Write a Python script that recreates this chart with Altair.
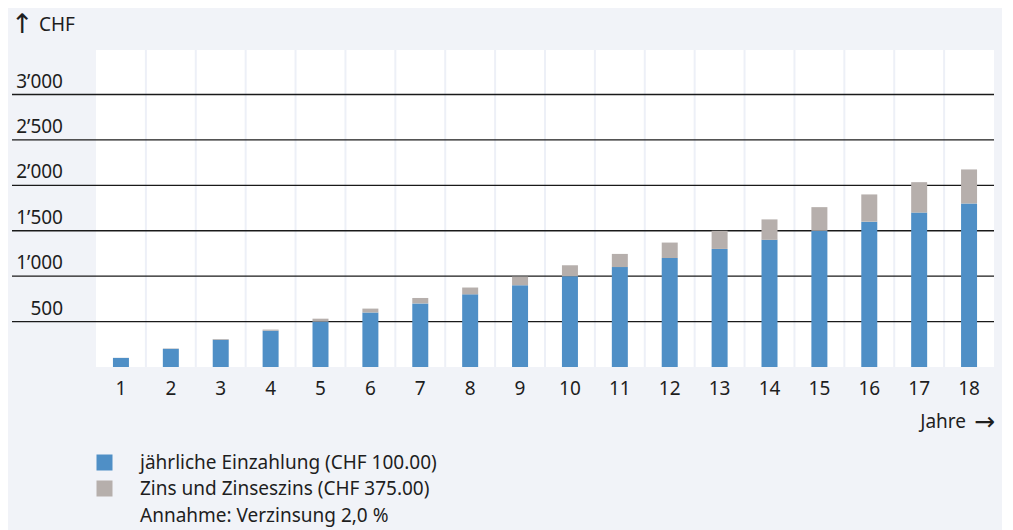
import altair as alt
import pandas as pd

years = list(range(1, 19))
einzahlung = [100, 200, 300, 400, 500, 600, 700, 800, 900, 1000, 1100, 1200,
              1300, 1400, 1500, 1600, 1700, 1800]
zins = [1, 4, 8, 12, 32, 43, 60, 75, 95, 120, 145, 170, 200, 225, 260, 300, 335, 375]
series = ["jährliche Einzahlung (CHF 100.00)", "Zins und Zinseszins (CHF 375.00)"]
colors = ["#4f8fc6", "#b6afac"]
y_ticks = [500, 1000, 1500, 2000, 2500, 3000]
y_labels = ["500", "1’000", "1’500", "2’000", "2’500", "3’000"]
note = "Annahme: Verzinsung 2,0 %"

FONT = "Noto Sans"
ARROW_FONT = "DejaVu Sans"
TXT = "#1e1e1e"
W, H = 898, 317
AX = 19
LG = 19

rows = []
for y, e, z in zip(years, einzahlung, zins):
    rows.append({"year": y, "series": series[0], "value": e, "ord": 0})
    rows.append({"year": y, "series": series[1], "value": z, "ord": 1})
df = pd.DataFrame(rows)

yscale = alt.Scale(domain=[0, 3490], nice=False)

# vertical separators between the year bands (band k ends at k)
vgrid = alt.Chart(pd.DataFrame({"b": years[:-1]})).mark_rule(
    color="#edf0f7", strokeWidth=2
).encode(
    x=alt.X("b:Q", scale=alt.Scale(domain=[0, len(years)], nice=False, zero=False),
            axis=None),
    y=alt.value(0), y2=alt.value(H),
)

hgrid_df = pd.DataFrame({"v": y_ticks, "lab": y_labels})
hgrid = alt.Chart(hgrid_df).mark_rule(color="#1a1a1a", strokeWidth=1.3).encode(
    y=alt.Y("v:Q", scale=yscale, axis=None),
    x=alt.value(-84), x2=alt.value(W),
)
hlabels = alt.Chart(hgrid_df).mark_text(
    align="right", baseline="alphabetic", dy=-7, fontSize=AX, font=FONT, color=TXT
).encode(
    y=alt.Y("v:Q", scale=yscale, axis=None),
    x=alt.value(-33),
    text="lab:N",
)

bars = alt.Chart(df).mark_bar(size=16).encode(
    x=alt.X("year:O", scale=alt.Scale(paddingInner=0, paddingOuter=0), title=None,
            axis=alt.Axis(labelAngle=0, domain=False, ticks=False, grid=False,
                          labelFontSize=AX, labelFont=FONT, labelColor=TXT,
                          labelPadding=12)),
    y=alt.Y("value:Q", stack="zero", scale=yscale, axis=None),
    color=alt.Color("series:N", scale=alt.Scale(domain=series, range=colors),
                    legend=alt.Legend(orient="none", legendX=-1, legendY=403,
                                      title=None, symbolType="square",
                                      symbolSize=256, symbolStrokeWidth=0,
                                      symbolOpacity=1, labelLimit=0,
                                      labelFontSize=LG, labelFont=FONT,
                                      labelColor=TXT, labelOffset=26,
                                      rowPadding=6, padding=0)),
    order=alt.Order("ord:Q"),
)

def txt(s, x, y, align, font=FONT, size=AX):
    return alt.Chart(pd.DataFrame({"t": [s]})).mark_text(
        align=align, baseline="middle", fontSize=size, font=font, color=TXT
    ).encode(x=alt.value(x), y=alt.value(y), text="t:N")

up_arrow = txt("↑", -85, -25, "left", ARROW_FONT, 27)
ytitle = txt("CHF", -57, -25, "left")
xtitle = txt("Jahre", 870, 372, "right")
right_arrow = txt("→", 899, 372, "right", ARROW_FONT, 25)
note_txt = txt(note, 44, 466, "left", FONT, LG)

chart = alt.layer(vgrid, hgrid, hlabels, bars, up_arrow, ytitle, xtitle,
                  right_arrow, note_txt).resolve_scale(x="independent").properties(
    width=W, height=H,
    autosize=alt.AutoSizeParams(type="none"),
    padding={"left": 88, "top": 42, "right": 8, "bottom": 163},
    background="#f1f3f8",
).configure_view(fill="white", strokeWidth=0)

chart.save("out.html", embed_options={"renderer": "svg", "actions": False})
